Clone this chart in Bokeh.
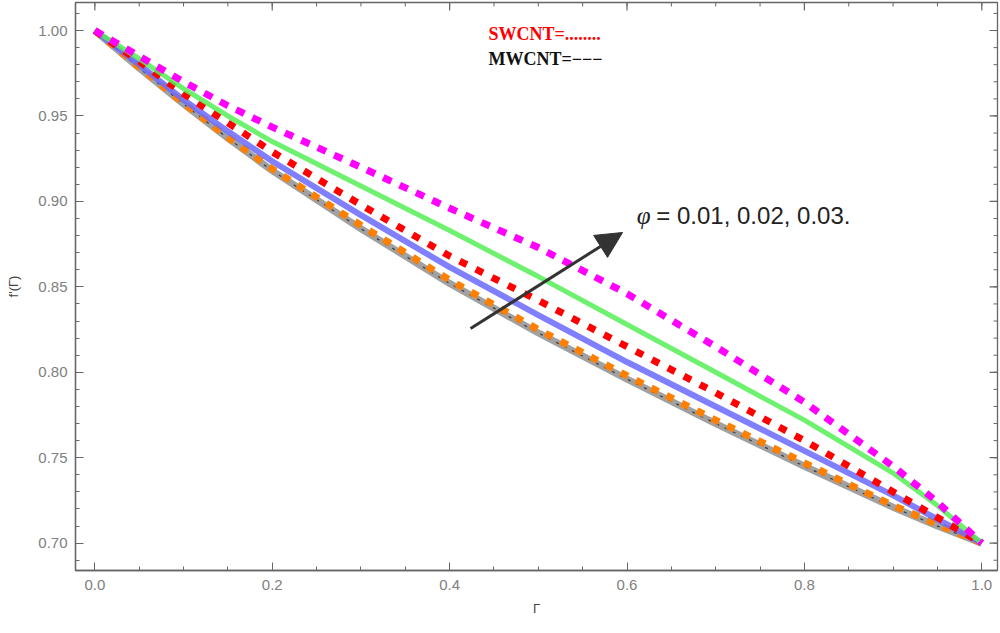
import math
from bokeh.plotting import figure
from bokeh.models import FixedTicker, Range1d, Arrow, NormalHead, Label, PrintfTickFormatter
from bokeh.embed import file_html
from bokeh.resources import INLINE

gamma = [0.0, 0.05, 0.1, 0.15, 0.2, 0.3, 0.4, 0.5, 0.6, 0.7, 0.8, 0.9, 0.95, 1.0]
magenta = [1.0, 0.985, 0.970, 0.956, 0.9435, 0.920, 0.896, 0.873, 0.846, 0.815, 0.7825, 0.745, 0.724, 0.700]
green = [1.0, 0.9835, 0.966, 0.950, 0.935, 0.909, 0.883, 0.856, 0.828, 0.800, 0.772, 0.741, 0.722, 0.700]
red = [1.0, 0.982, 0.963, 0.946, 0.929, 0.898, 0.868, 0.842, 0.815, 0.788, 0.760, 0.730, 0.715, 0.700]
blue = [1.0, 0.980, 0.9595, 0.941, 0.9235, 0.892, 0.8615, 0.8335, 0.806, 0.780, 0.754, 0.728, 0.714, 0.700]
orange = [1.0, 0.9785, 0.9575, 0.9375, 0.919, 0.886, 0.854, 0.825, 0.798, 0.772, 0.747, 0.722, 0.711, 0.700]
gray = [1.0, 0.978, 0.957, 0.937, 0.918, 0.884, 0.852, 0.823, 0.796, 0.770, 0.745, 0.721, 0.710, 0.700]

x_major = [0.0, 0.2, 0.4, 0.6, 0.8, 1.0]
x_minor = [round(i * 0.05, 2) for i in range(21)]
y_major = [0.70, 0.75, 0.80, 0.85, 0.90, 0.95, 1.00]
y_minor = [round(0.69 + i * 0.01, 2) for i in range(33)]

x_lo, x_hi = -0.0218, 1.0177
y_lo, y_hi = 0.684, 1.0164

p = figure(width=1000, height=633, output_backend="svg", toolbar_location=None,
           x_range=Range1d(x_lo, x_hi), y_range=Range1d(y_lo, y_hi),
           x_axis_label="Γ", y_axis_label="f'(Γ)",
           min_border_left=75, min_border_right=3, min_border_top=2, min_border_bottom=63)
p.grid.visible = False
p.outline_line_color = "#666666"
p.outline_line_width = 1.3
p.background_fill_color = "white"
p.border_fill_color = "white"

for ax in (p.xaxis[0], p.yaxis[0]):
    ax.axis_line_color = "#666666"
    ax.axis_line_width = 1.3
    ax.major_tick_line_color = "#666666"
    ax.minor_tick_line_color = "#666666"
    ax.major_tick_in = 8
    ax.major_tick_out = 0
    ax.minor_tick_in = 4
    ax.minor_tick_out = 0
    ax.major_label_text_color = "#808080"
    ax.major_label_text_font = "Liberation Sans"
    ax.major_label_text_font_size = "15px"
    ax.axis_label_text_font = "Liberation Sans"
    ax.axis_label_text_font_size = "13px"
    ax.axis_label_text_font_style = "normal"
    ax.axis_label_text_color = "#444444"

p.xaxis[0].ticker = FixedTicker(ticks=x_major, minor_ticks=x_minor)
p.yaxis[0].ticker = FixedTicker(ticks=y_major, minor_ticks=y_minor)
p.xaxis[0].formatter = PrintfTickFormatter(format="%.1f")
p.yaxis[0].formatter = PrintfTickFormatter(format="%.2f")
p.xaxis[0].major_label_standoff = 9
p.yaxis[0].major_label_standoff = 8
p.xaxis[0].axis_label_standoff = 8
p.yaxis[0].axis_label_standoff = 14

# inward frame ticks on the top and right edges
tick_col = "#666666"
p.ray(x=[x_hi] * len(y_major), y=y_major, length=8, length_units="screen", angle=math.pi,
      line_color=tick_col, line_width=1.2)
p.ray(x=[x_hi] * len(y_minor), y=y_minor, length=4, length_units="screen", angle=math.pi,
      line_color=tick_col, line_width=1.0)
p.ray(x=x_major, y=[y_hi] * len(x_major), length=8, length_units="screen", angle=-math.pi / 2,
      line_color=tick_col, line_width=1.2)
p.ray(x=x_minor, y=[y_hi] * len(x_minor), length=4, length_units="screen", angle=-math.pi / 2,
      line_color=tick_col, line_width=1.0)

# curves (drawn bottom to top)
p.line(gamma, gray, line_color="#8a8a8a", line_width=7, line_alpha=0.8)
p.line(gamma, gray, line_color="#222222", line_width=1.2, line_dash="3 6", line_alpha=0.8)
p.line(gamma, orange, line_color="#ff8000", line_width=7, line_dash="8 9")
p.line(gamma, blue, line_color="#6a6aff", line_width=6, line_alpha=0.85)
p.line(gamma, red, line_color="#ff0000", line_width=7, line_dash="8 10")
p.line(gamma, green, line_color="#55ee55", line_width=5, line_alpha=0.85)
p.line(gamma, magenta, line_color="#ff00ff", line_width=7, line_dash="9 9")

arrow_start = (0.4236, 0.8256)
arrow_end = (0.595, 0.8818)
p.add_layout(Arrow(end=NormalHead(size=26, fill_color="#333333", line_color="#333333"),
                   x_start=arrow_start[0], y_start=arrow_start[1],
                   x_end=arrow_end[0], y_end=arrow_end[1],
                   line_color="#333333", line_width=3))

p.add_layout(Label(x=0.611, y=0.8916, text="φ", text_font="Liberation Serif",
                   text_font_style="italic", text_font_size="25px", text_color="#222222",
                   text_baseline="middle"))
p.add_layout(Label(x=0.633, y=0.8916, text="= 0.01, 0.02, 0.03.", text_font="Liberation Sans",
                   text_font_size="24px", text_color="#222222", text_baseline="middle"))

p.add_layout(Label(x=0.4439, y=0.9982, text="SWCNT=........", text_font="Liberation Serif",
                   text_font_style="bold", text_font_size="18px", text_color="#ff0000",
                   text_baseline="middle"))
p.add_layout(Label(x=0.4439, y=0.9836, text="MWCNT=−−−", text_font="Liberation Serif",
                   text_font_style="bold", text_font_size="18px", text_color="#111111",
                   text_baseline="middle"))

open("out.html", "w").write(file_html(p, INLINE))
